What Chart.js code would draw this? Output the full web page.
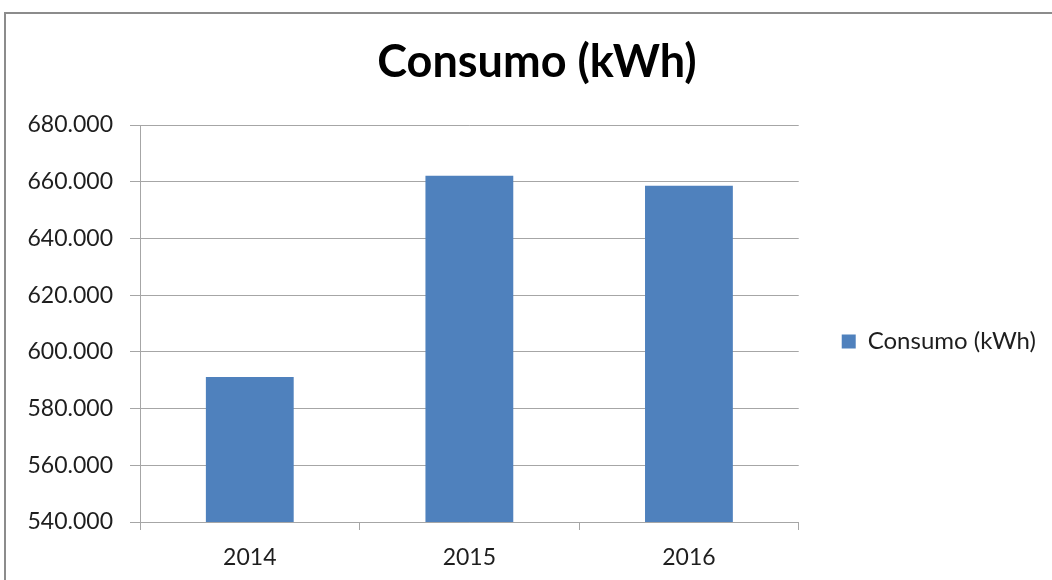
<!DOCTYPE html>
<html>
<head>
<meta charset="utf-8">
<script src="https://cdn.jsdelivr.net/npm/chart.js@4.4.1/dist/chart.umd.min.js"></script>
<style>
  html, body { margin: 0; padding: 0; background: #fff; overflow: hidden; }
  #wrap { position: relative; width: 1052px; height: 580px; }
  #frame { position: absolute; left: 4px; top: 12px; width: 1100px; height: 700px;
           border-top: 2px solid #8c8c8c; border-left: 2px solid #8c8c8c; box-sizing: border-box; }
  canvas { position: absolute; left: 0; top: 0; }
</style>
</head>
<body>
<div id="wrap">
  <div id="frame"></div>
  <canvas id="c" width="1052" height="580"></canvas>
</div>
<script>
const chartTitle = 'Consumo (kWh)';
const seriesName = 'Consumo (kWh)';
const categories = ['2014', '2015', '2016'];
const consumo = [591100, 662100, 658600];
const yMin = 540000;
const yMax = 680000;
const yStep = 20000;

const FONT = 'Lato, "Open Sans", sans-serif';
const TEXT = '#1e1e1e';
const GRID = '#a6a6a6';

function fmt(v) {
  return String(Math.round(v)).replace(/\B(?=(\d{3})+(?!\d))/g, '.');
}

const legendShift = {
  id: 'legendShift',
  afterLayout(chart) {
    const lg = chart.legend;
    if (lg) { lg.top += 18; lg.bottom += 18; }
  }
};

new Chart(document.getElementById('c'), {
  type: 'bar',
  data: {
    labels: categories,
    datasets: [{
      label: seriesName,
      data: consumo,
      backgroundColor: '#4f81bd',
      borderWidth: 0,
      barPercentage: 0.4,
      categoryPercentage: 1.0
    }]
  },
  options: {
    responsive: false,
    animation: false,
    devicePixelRatio: 1,
    layout: { padding: { left: 28, right: 6, top: 0, bottom: 0 } },
    plugins: {
      title: {
        display: true,
        text: chartTitle,
        color: '#000',
        font: { family: FONT, size: 45, weight: 'bold' },
        padding: { top: 35, bottom: 36 }
      },
      legend: {
        display: true,
        position: 'right',
        fullSize: false,
        labels: {
          color: TEXT,
          font: { family: FONT, size: 24 },
          boxWidth: 14,
          boxHeight: 14,
          padding: 43
        }
      },
      tooltip: { enabled: false }
    },
    scales: {
      x: {
        grid: { display: true, drawOnChartArea: false, drawTicks: true, tickLength: 8, color: GRID },
        border: { display: true, color: GRID, width: 1 },
        ticks: { color: TEXT, font: { family: FONT, size: 23 }, padding: 14 },
        afterFit(s) { s.height = 58; }
      },
      y: {
        min: yMin,
        max: yMax,
        grid: { color: GRID, tickLength: 10, drawTicks: true },
        border: { display: true, color: GRID, width: 1 },
        ticks: {
          stepSize: yStep,
          color: TEXT,
          font: { family: FONT, size: 23 },
          padding: 17,
          callback: (v) => fmt(v)
        },
        afterFit(s) { s.width = 112; }
      }
    }
  },
  plugins: [legendShift]
});
</script>
</body>
</html>
